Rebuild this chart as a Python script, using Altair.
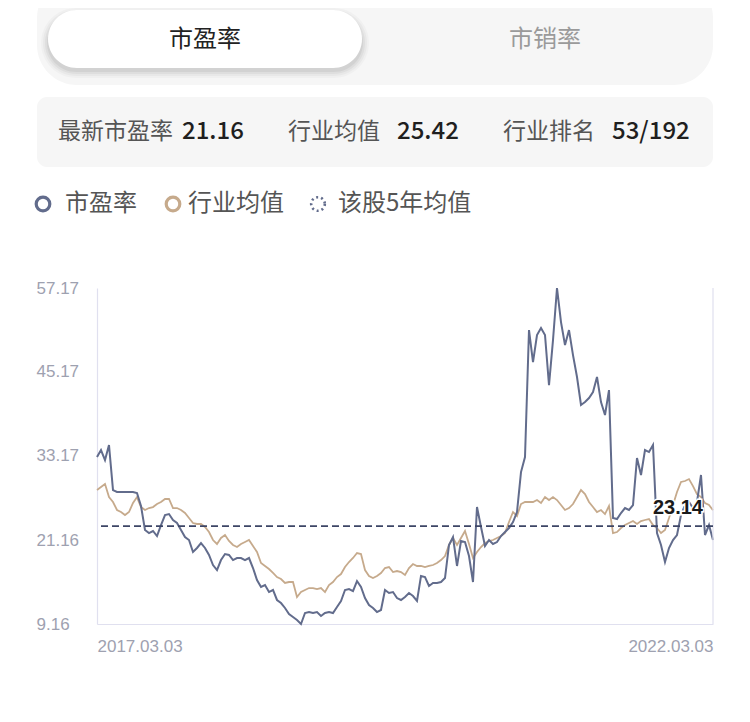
import altair as alt
import pandas as pd

# ---------------- data ----------------
start_date = "2017-03-03"
end_date = "2022-03-03"
n_points = 155

pe_values = [
    33.02, 34.02, 32.59, 34.73, 28.30, 28.02, 28.02, 28.02, 28.02, 28.02,
    27.87, 26.02, 22.59, 22.16, 22.45, 21.73, 23.30, 24.73, 24.87, 24.02,
    23.59, 22.59, 21.59, 21.16, 19.45, 20.02, 20.73, 20.02, 19.02, 17.59,
    16.87, 18.30, 19.16, 19.02, 18.30, 18.59, 18.59, 18.30, 18.59, 17.16,
    15.45, 14.45, 14.73, 13.73, 14.02, 12.59, 12.16, 11.45, 10.59, 10.16,
    9.73, 9.16, 10.73, 10.87, 10.73, 10.87, 10.30, 10.73, 10.87, 10.73,
    11.59, 12.45, 14.02, 14.16, 13.87, 15.30, 14.45, 12.87, 11.87, 11.45,
    10.87, 11.16, 14.02, 13.59, 13.73, 12.87, 12.59, 13.02, 13.59, 13.16,
    12.45, 16.02, 15.87, 14.59, 15.02, 15.02, 15.16, 15.73, 20.45, 21.59,
    17.45, 21.02, 20.87, 18.87, 15.16, 25.87, 23.02, 20.30, 21.16, 20.59,
    20.87, 21.73, 22.30, 22.87, 23.73, 25.16, 30.87, 33.02, 51.16, 46.59,
    50.45, 51.45, 50.45, 43.30, 49.73, 57.17, 52.30, 49.02, 51.16, 47.59,
    44.45, 40.45, 40.87, 41.45, 42.30, 44.45, 40.87, 39.02, 42.59, 24.30,
    24.16, 25.02, 25.73, 25.45, 26.16, 32.87, 30.45, 34.02, 33.73, 34.73,
    22.16, 20.45, 18.02, 20.02, 21.16, 21.87, 24.73, 26.16, 26.59, 25.73,
    26.59, 30.45, 21.87, 23.30, 21.16,
]

industry_values = [
    28.30, 28.73, 29.16, 27.30, 26.59, 25.45, 25.16, 24.73, 25.16, 26.45,
    27.30, 25.87, 25.45, 25.73, 25.87, 26.30, 26.59, 27.02, 27.02, 25.73,
    25.73, 25.45, 25.02, 24.30, 23.59, 23.45, 23.45, 23.02, 22.30, 21.16,
    20.59, 21.45, 21.87, 21.02, 20.45, 20.16, 20.59, 20.87, 21.16, 20.30,
    19.45, 17.87, 17.45, 17.02, 16.45, 15.87, 15.59, 15.02, 15.16, 15.16,
    13.02, 13.73, 14.02, 14.30, 14.30, 14.16, 14.30, 13.73, 14.73, 15.16,
    15.87, 16.30, 17.30, 18.02, 18.59, 19.30, 19.16, 16.87, 16.02, 15.73,
    16.02, 16.45, 17.16, 17.30, 16.59, 16.73, 16.59, 16.16, 17.16, 17.73,
    17.45, 17.45, 17.30, 17.45, 17.59, 17.87, 18.30, 18.87, 20.45, 21.45,
    20.45, 21.45, 22.45, 20.59, 18.59, 19.45, 20.16, 20.73, 21.02, 21.16,
    21.45, 21.73, 22.16, 23.73, 25.16, 24.59, 26.30, 26.59, 26.59, 26.59,
    26.87, 26.45, 27.30, 26.87, 27.30, 26.87, 26.16, 25.45, 25.73, 26.30,
    27.30, 28.30, 27.73, 26.59, 25.87, 25.16, 25.45, 24.87, 26.02, 22.16,
    22.30, 22.87, 23.30, 23.59, 23.87, 23.45, 23.87, 24.02, 24.16, 23.30,
    22.87, 22.16, 22.59, 24.30, 26.16, 28.02, 29.45, 29.59, 29.87, 28.87,
    27.73, 27.30, 26.45, 26.16, 25.42,
]

pe_mean_5y = 23.14
y_ticks = [9.16, 21.16, 33.17, 45.17, 57.17]
tab_labels = ["市盈率", "市销率"]
info_labels = ["最新市盈率", "行业均值", "行业排名"]
info_values = ["21.16", "25.42", "53/192"]
legend_labels = ["市盈率", "行业均值", "该股5年均值"]

df = pd.DataFrame({
    "date": pd.date_range(start_date, end_date, periods=n_points),
    "pe": pe_values,
    "industry": industry_values,
})

# ---------------- styles ----------------
CJK = "Noto Sans CJK SC"
NUM = "Liberation Sans"
PE_COLOR = "#626c8c"
IND_COLOR = "#c6aa8c"
MEAN_COLOR = "#3d4566"
AXIS_COLOR = "#e0e0ef"
LABEL_COLOR = "#9ea1b0"
PANEL = "#f6f6f6"

d0 = alt.DateTime(year=2017, month=3, date=3)
d1 = alt.DateTime(year=2022, month=3, date=3)
one = alt.Data(values=[{"k": 0}])

x_enc = alt.X(
    "date:T",
    scale=alt.Scale(domain=[d0, d1], nice=False),
    axis=alt.Axis(values=[d0, d1], format="%Y.%m.%d", labelFlush=True,
                  ticks=False, tickSize=0, grid=False, title=None,
                  labelPadding=14, labelFontSize=17, labelFont=NUM,
                  labelColor=LABEL_COLOR, domainColor=AXIS_COLOR, domainWidth=1.2),
)
y_scale = alt.Scale(domain=[9.16, 57.17], nice=False, zero=False)


def rect(x1, x2, y1, y2, color, radius=0, opacity=1.0):
    return alt.Chart(one).mark_rect(cornerRadius=radius, color=color, opacity=opacity).encode(
        x=alt.value(x1), x2=alt.value(x2), y=alt.value(y1), y2=alt.value(y2))


def text(t, x, y, size, color, weight="normal", align="left", font=CJK):
    return alt.Chart(one).mark_text(align=align, baseline="middle", font=font, fontSize=size,
                                    color=color, fontWeight=weight).encode(
        x=alt.value(x), y=alt.value(y), text=alt.value(t))


def ring(x, y, color, dash=None, width=3.2):
    kw = dict(shape="circle", filled=False, size=185, strokeWidth=width, color=color, opacity=1)
    if dash:
        kw["strokeDash"] = dash
    return alt.Chart(one).mark_point(**kw).encode(x=alt.value(x), y=alt.value(y))


layers = []
# tab panel
layers.append(rect(-60, 616, -310, -203, PANEL, radius=40))
for k, op in [(7, 0.025), (5, 0.03), (3, 0.04), (1, 0.05)]:
    layers.append(rect(-49 - k, 265 + k, -278 - k + 5, -220 + k + 3, "#000000", radius=29 + k, opacity=op))
layers.append(rect(-49, 265, -278, -220, "#ffffff", radius=29))
layers.append(text(tab_labels[0], 108, -248, 24, "#222222", align="center"))
layers.append(text(tab_labels[1], 448, -248, 24, "#9a9a9a", align="center"))

# info panel
layers.append(rect(-60, 616, -191, -121, PANEL, radius=10))
info_x = [(-39, 85), (191, 300), (406, 515)]
for (lx, vx), lab, val in zip(info_x, info_labels, info_values):
    layers.append(text(lab, lx, -156, 23, "#555555"))
    layers.append(text(val, vx, -156, 24, "#1f1f1f", weight=500))

# legend
leg_x = [(-54, -32), (76, 91), (221, 241)]
layers.append(ring(leg_x[0][0], -84, PE_COLOR))
layers.append(ring(leg_x[1][0], -84, IND_COLOR))
layers.append(ring(leg_x[2][0], -84, PE_COLOR, dash=[2, 3], width=2.6))
for (cx, tx), lab in zip(leg_x, legend_labels):
    layers.append(text(lab, tx, -84, 24, "#555555"))

# plot
base = alt.Chart(df)
ind_line = base.mark_line(color=IND_COLOR, strokeWidth=1.8).encode(
    x=x_enc,
    y=alt.Y("industry:Q", scale=y_scale,
            axis=alt.Axis(values=y_ticks, format=".2f", labelAlign="left", labelPadding=61,
                          labelBaseline="middle", ticks=False, tickSize=0, grid=False, title=None,
                          labelFontSize=17, labelFont=NUM, labelColor=LABEL_COLOR,
                          domainColor=AXIS_COLOR, domainWidth=1.2)),
)
pe_line = base.mark_line(color=PE_COLOR, strokeWidth=2).encode(
    x=alt.X("date:T"), y=alt.Y("pe:Q", scale=y_scale))
right_border = alt.Chart(one).mark_rule(color=AXIS_COLOR, strokeWidth=1.2).encode(x=alt.datum(d1))
mean_rule = alt.Chart(one).mark_rule(color=MEAN_COLOR, strokeDash=[7, 4], strokeWidth=1.6).encode(
    y=alt.datum(pe_mean_5y))
mean_halo = alt.Chart(one).mark_text(align="right", baseline="alphabetic", dx=-10, dy=-12, fontSize=20,
                                     fontWeight="bold", font=NUM, color="#ffffff", stroke="#ffffff",
                                     strokeWidth=3).encode(
    x=alt.datum(d1), y=alt.datum(pe_mean_5y), text=alt.value(f"{pe_mean_5y:.2f}"))
mean_text = alt.Chart(one).mark_text(align="right", baseline="alphabetic", dx=-10, dy=-12, fontSize=20,
                                     fontWeight="bold", font=NUM, color="#1a1a1a").encode(
    x=alt.datum(d1), y=alt.datum(pe_mean_5y), text=alt.value(f"{pe_mean_5y:.2f}"))

layers += [ind_line, pe_line, right_border, mean_rule, mean_halo, mean_text]

chart = alt.layer(*layers).properties(
    width=616, height=336,
    padding={"left": 89, "top": 280, "right": 29, "bottom": 60},
    autosize=alt.AutoSizeParams(type="none"),
    background="#ffffff",
).configure_view(stroke=None)

chart.save("out.html", embed_options={"renderer": "svg", "actions": False})
